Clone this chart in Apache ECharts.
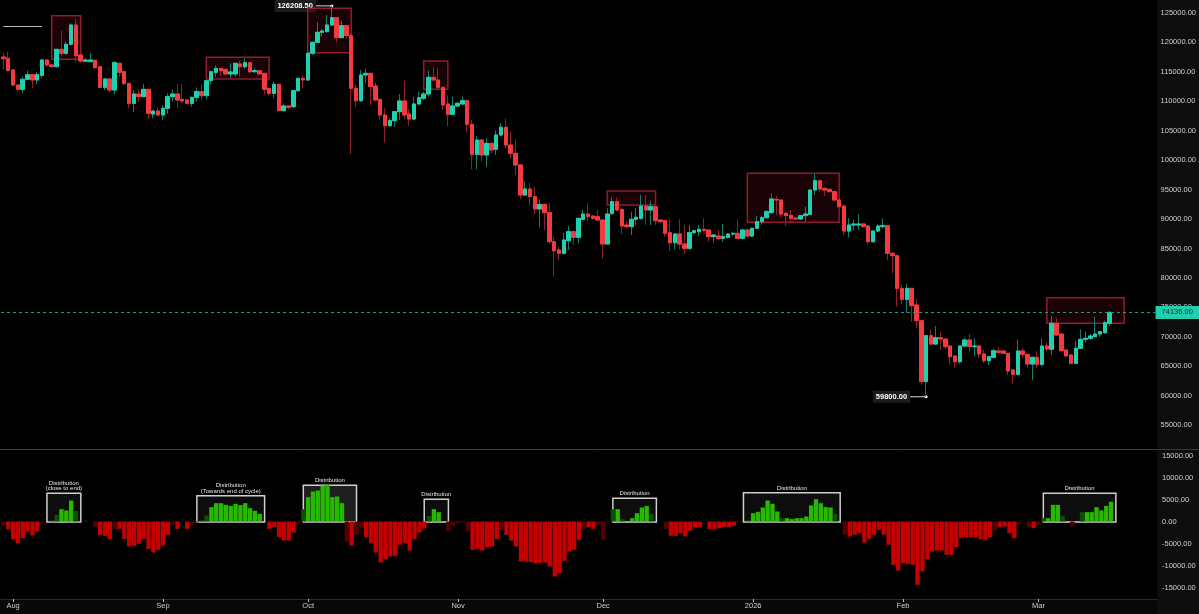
<!DOCTYPE html>
<html>
<head>
<meta charset="utf-8">
<script src="https://cdn.jsdelivr.net/npm/echarts@6/dist/echarts.min.js"></script>
<style>
html, body { margin: 0; padding: 0; background: #000; }
#chart { width: 1199px; height: 614px; }
</style>
</head>
<body>
<div id="chart"></div>
<script>
// daily candles, first one is 2025-07-30
const firstDay = Date.UTC(2025, 6, 30);
const slotCount = 239;  // includes empty days on the right

const opens = [117530,117300,115320,112770,112030,113730,114520,113620,114410,117020,116170,115880,118830,118150,119680,122960,117870,116790,116730,116960,115880,112370,113790,111920,116450,115030,113050,109650,111240,110790,112030,107840,108350,107670,108800,110790,111240,110330,110220,109650,110670,111640,110960,113500,114920,115600,115430,114640,114640,116340,115880,116560,115030,115200,114750,112200,111350,112880,108410,109200,109090,111810,113900,113620,118150,120020,121720,121830,122960,124210,120810,122850,121150,112200,110110,114470,114750,112600,110330,107670,105860,106710,108240,110050,107840,106990,109540,110500,111240,114070,113620,112370,109540,107790,109200,109540,110110,106090,100990,103420,100880,102860,101840,104270,105580,102570,101160,99180,94080,95100,93800,91700,92490,91080,86150,84740,84170,86320,87850,86890,89950,90850,90510,90400,89830,85760,90960,92950,91640,88980,88700,89950,90120,92210,91530,92100,89830,89720,87680,85980,87450,85750,85020,87680,87850,88250,88130,87000,87110,86720,86890,87450,87570,86720,88130,87110,88420,89550,90230,91080,93340,93230,90960,90630,90170,90000,90570,90790,94930,96510,95210,95040,94650,93230,92210,87960,88980,88980,89150,88810,86150,87960,88700,88870,84170,83770,78220,76350,78220,75390,72730,62370,70180,68760,69840,69610,68420,66730,65760,68420,69440,68310,68420,67070,65930,66500,67580,67580,67180,64350,63610,67580,67010,65370,66500,65310,68420,67860,72280,70460,67750,66900,65480,68030,69560,69730,70010,70460,70690,72280];
const closes = [117240,115200,112770,112030,113730,114520,113620,114520,117020,116170,115880,118830,118150,119680,122960,117750,116850,117020,117020,115710,112370,113790,111920,116560,114920,113050,109650,111240,110790,112030,107960,108350,107670,108800,110790,111240,110220,110050,109650,110670,111640,110960,113500,115030,115600,115200,114640,114980,116450,115880,116560,115030,115200,114640,112030,111350,112880,108410,109200,108970,111810,113900,113620,118150,120020,121720,121940,122960,124210,120810,122850,121150,112200,110110,114470,114750,112490,110220,107670,105860,106710,108240,110050,107670,106990,109540,110620,111240,114070,113620,112370,109370,107790,109200,109650,110110,106090,100990,103420,100880,102860,101730,104270,105580,102570,101160,99180,94080,95100,93800,91700,92490,91080,86150,84620,84170,86430,87850,86890,90120,90850,90400,90120,89830,85760,90850,92950,91530,88810,88700,89950,90290,92210,91530,92100,89720,89550,87570,85980,87450,85750,85020,87680,88020,88250,88020,87000,87280,86720,87000,87450,87570,86720,88130,87110,88420,89550,90230,91250,93400,93230,90850,90570,90120,90000,90570,90850,94930,96510,95100,94930,94650,93230,92100,87960,88980,89150,89150,88700,86150,87960,88810,88870,84170,83770,78220,76350,78220,75280,72730,62370,70180,68760,69840,69610,68310,66610,65760,68420,69440,68310,68420,67070,65930,66610,67630,67350,67180,64180,63610,67580,67010,65370,66500,65310,68420,67920,72280,70290,67630,66730,65480,68030,69560,69730,70120,70460,70860,72390,74136];
const lows = [115320,115100,112600,111640,111350,113620,112200,112880,113900,115880,115800,115800,117580,117870,119500,116560,116450,116680,116700,115600,112300,111920,111470,111180,114070,112700,108800,108130,109940,110670,106990,107110,107500,106820,107840,109940,108800,109650,109500,109090,109940,110330,110330,112940,114180,114300,114500,113900,114180,114180,115600,114750,114900,114550,111070,110960,110500,108240,108240,108630,108800,111600,112200,113500,117870,119900,120980,121720,122850,119960,120700,120700,101050,109090,109900,113170,109370,110000,106940,103030,105700,105690,106820,106940,105800,106800,109400,110200,110790,113400,111810,108520,105800,107700,109000,109400,104840,98440,98440,99740,98780,101160,100880,104000,102010,100310,97480,93340,93900,92380,90850,88590,88130,85760,80210,83040,84000,84740,85590,85870,89800,89720,89900,89720,83320,85600,90680,91300,87450,88420,87280,88980,89900,88980,88980,88980,89300,87000,84620,84850,84850,84060,84740,87500,87110,87850,86150,86000,86430,86150,86700,87110,86550,86550,86720,86900,88300,89000,90100,90900,90680,90290,88810,89270,89900,89900,89550,90700,94080,94650,93910,94500,93100,92000,87280,86890,88130,88130,88600,85700,86000,87800,88420,83040,80770,75110,75560,74090,72560,71430,61800,59800,68420,68600,67750,67860,65310,64740,65370,68300,67460,66730,66330,65480,65200,66300,67150,67050,63500,62080,63400,66500,64630,62650,64630,64910,67460,66900,70120,67290,66600,65370,65300,67900,68990,69440,69900,70010,70500,71820];
const highs = [118320,118430,115400,112850,114180,115200,114600,115030,117100,117100,116300,118900,121940,120130,123250,124090,118150,117300,118150,117020,116000,113900,113900,116850,116560,115100,113100,111920,112030,112940,112100,108500,108970,109370,111350,112030,112940,112940,110400,110800,112370,112770,113600,115100,116050,115700,115500,116450,116550,116900,117300,116650,115600,115300,114800,112300,113330,113000,109650,109300,111900,114000,114300,118300,120100,123420,122280,124660,126208.5,124300,123700,123000,121550,112770,115320,115490,114850,113200,110400,108800,107110,108300,111240,113510,108690,110790,111640,111640,115200,115880,115600,112500,111070,110790,109900,110790,110300,106820,104100,103500,103710,103000,105010,106260,107100,104840,103540,99300,96350,96180,95500,93340,92600,92660,87000,85300,87680,88810,88000,90200,91530,92660,90700,91530,90000,91810,93680,93680,91800,89720,91250,91810,94080,94080,93120,92200,90000,89800,89950,87600,89950,88980,88980,88150,88980,90120,88250,87450,88130,89150,87600,87700,89950,88250,88420,88500,90510,90510,91530,94360,93910,93400,91250,91530,90250,90700,92100,95000,97650,96700,95380,95210,94800,93300,92300,90120,89830,90850,89300,88900,88100,89100,90120,89000,84300,83900,78960,78960,78300,76520,72900,70300,71260,71820,70860,69700,68500,66800,68500,69730,70460,69730,68500,67860,66700,67860,68200,67750,67250,64450,69560,68030,67100,66600,67580,69730,68990,73520,73130,70550,67850,67000,69330,71260,70860,70460,73410,71000,72730,74300];

// lower pane oscillator, one value per candle
const histValues = [-758,-1742,-4015,-4924,-3788,-2273,-3182,-2273,-300,0,300,1515,2800,2500,4773,2424,0,150,0,-1136,-3030,-3258,-4015,-1742,-1667,-3940,-5682,-5530,-5076,-3940,-6212,-7045,-6440,-5455,-3030,-758,-1667,0,-1667,-758,-200,227,1364,3258,4167,4167,3788,3560,4015,3712,4167,3030,2424,1742,0,-1667,-1288,-3561,-4318,-4318,-2500,-379,2803,5530,6818,7045,8182,8333,5530,5682,4167,-4545,-5455,-3030,-1515,-3561,-4924,-7045,-9318,-8561,-7955,-7800,-5300,-4924,-6591,-4015,-2500,-1591,1288,2803,2121,0,-2121,-985,-379,150,-2273,-6440,-6212,-6591,-5909,-5682,-4015,-1742,-3030,-4318,-5682,-9091,-9091,-9242,-9470,-9470,-9318,-10227,-12500,-11742,-8939,-6818,-6439,-4167,-1667,-1288,-1667,-758,-4167,-200,2803,2803,530,0,758,1894,3182,3561,1742,0,0,-1742,-3258,-3258,-2652,-3409,-2121,-1364,-1364,0,-1742,-1742,-1515,-1288,-1288,-985,-227,0,379,1894,2197,3182,4773,4015,2273,758,758,530,758,758,1136,3636,5076,4167,3258,3182,1742,0,-3030,-3409,-3030,-2652,-4773,-3940,-3030,-1894,-3000,-5303,-9848,-11136,-9470,-9621,-9848,-14394,-11364,-8561,-6818,-6591,-6591,-7576,-7576,-5833,-3788,-3636,-3636,-3636,-4015,-4167,-3636,-2045,-1288,-1136,-2652,-3788,-379,0,-1288,-1515,-758,758,758,3788,3788,1288,0,-1136,0,2121,2121,2121,3258,2500,3561,4487.14];
// candles where the oscillator is in its weak state
const histWeak = [0,8,10,11,15,17,19,23,35,39,40,41,42,61,62,71,73,74,88,92,93,94,95,96,103,120,123,124,125,126,128,134,137,152,154,161,172,174,205,210,212,214,215,219,221,223];

const lastPrice = 74136;
const lastHist = 4487.14;
const highIdx = 68, highValue = 126208.5;
const lowIdx = 191, lowValue = 59800;
const oldLevel = 122790;

// [from candle, to candle, top price, bottom price]
const priceBoxes = [
    [10, 16, 124540, 117130],
    [42, 55, 117470, 113790],
    [63, 72, 125800, 118260],
    [87, 92, 116850, 112040],
    [125, 135, 94760, 92380],
    [154, 173, 97770, 89440],
    [216, 232, 76630, 72280]
];
// [from candle, to candle, top value, label]
const histBoxes = [
    [9, 16, 6410, 'Distribution\n(close to end)'],
    [40, 54, 5860, 'Distribution\n(Towards end of cycle)'],
    [62, 73, 8230, 'Distribution'],
    [87, 92, 5050, 'Distribution'],
    [126, 135, 5270, 'Distribution'],
    [153, 173, 6550, 'Distribution'],
    [215, 230, 6410, 'Distribution']
];

const monthNames = ['Jan', 'Feb', 'Mar', 'Apr', 'May', 'Jun', 'Jul', 'Aug', 'Sep', 'Oct', 'Nov', 'Dec'];
const dates = [];
for (let i = 0; i < slotCount; i++) {
    dates.push(new Date(firstDay + i * 86400000).toISOString().slice(0, 10));
}
const isMonthStart = (idx) => dates[idx].slice(8) === '01';
const monthLabel = (d) => {
    const m = +d.slice(5, 7) - 1;
    return m === 0 ? d.slice(0, 4) : monthNames[m];
};

const font = 'Liberation Sans';
const upColor = '#22cfae', downColor = '#f23a3f';
const upWick = '#14806c', downWick = '#8e2226';

const fullCandles = opens.map((o, i) => [o, closes[i], lows[i], highs[i]]);
const bodyCandles = opens.map((o, i) => [o, closes[i], Math.min(o, closes[i]), Math.max(o, closes[i])]);
const histBars = histValues.map((v, i) => {
    const weak = histWeak.includes(i);
    let c;
    if (v >= 0) c = weak ? '#0c4f00' : '#27b900';
    else c = weak ? '#560000' : '#c40000';
    return { value: v, itemStyle: { color: c } };
});

const chart = echarts.init(document.getElementById('chart'));
const option = {
    backgroundColor: '#000',
    animation: false,
    textStyle: { fontFamily: font },
    grid: [
        { left: 1, right: 42, top: 0, height: 454.45 },
        { left: 1, right: 42, top: 455.5, height: 132 }
    ],
    xAxis: [
        {
            type: 'category', gridIndex: 0, data: dates, boundaryGap: true,
            axisLine: { show: false }, axisTick: { show: false }, axisLabel: { show: false }
        },
        {
            type: 'category', gridIndex: 1, data: dates, boundaryGap: true, offset: 11.5,
            axisLine: { show: true, onZero: false, lineStyle: { color: '#2b2b2b' } },
            axisTick: { show: true, alignWithLabel: true, length: 3, interval: (i) => isMonthStart(i), lineStyle: { color: '#bdbdbd' } },
            axisLabel: {
                interval: (i) => isMonthStart(i), formatter: monthLabel,
                color: '#cfcfcf', fontSize: 7.5, margin: 3
            }
        }
    ],
    yAxis: [
        {
            type: 'value', gridIndex: 0, position: 'right', min: 50000, max: 127209, interval: 5000,
            splitLine: { show: false }, axisLine: { show: false }, axisTick: { show: false },
            axisLabel: {
                showMinLabel: false, showMaxLabel: false, align: 'left', margin: 5,
                color: '#cfcfcf', fontSize: 7.5, formatter: (v) => v.toFixed(2)
            }
        },
        {
            type: 'value', gridIndex: 1, position: 'right', min: -15000, max: 15000, interval: 5000,
            splitLine: { show: false }, axisLine: { show: false }, axisTick: { show: false },
            axisLabel: {
                align: 'left', margin: 5, padding: [0, 0, 3, 0],
                color: '#cfcfcf', fontSize: 7.5, formatter: (v) => v.toFixed(2)
            }
        }
    ],
    graphic: [
        { type: 'rect', z: -1, shape: { x: 1157, y: 0, width: 42, height: 614 }, style: { fill: '#0d0d0d' } },
        { type: 'rect', z: -1, shape: { x: 0, y: 599, width: 1157, height: 15 }, style: { fill: '#080808' } },
        { type: 'line', shape: { x1: 0, y1: 449.5, x2: 1199, y2: 449.5 }, style: { stroke: '#3c3c3c', lineWidth: 1 } }
    ],
    series: [
        {
            name: 'wicks', type: 'candlestick', xAxisIndex: 0, yAxisIndex: 0,
            data: fullCandles, barWidth: 4,
            itemStyle: { color: 'transparent', color0: 'transparent', borderColor: upWick, borderColor0: downWick, borderWidth: 1 },
            markArea: {
                silent: true,
                itemStyle: { color: 'rgba(120,12,30,0.22)', borderColor: '#8f1c30', borderWidth: 1.5 },
                data: priceBoxes.map(b => [
                    { coord: [dates[b[0]], b[2]] },
                    { coord: [dates[b[1]], b[3]] }
                ])
            },
            markLine: {
                silent: true, symbol: 'none', label: { show: false },
                lineStyle: { color: '#bdbdbd', type: 'solid', width: 1 },
                data: [[{ coord: [dates[0], oldLevel] }, { coord: [dates[8], oldLevel] }]]
            }
        },
        {
            name: 'bodies', type: 'candlestick', xAxisIndex: 0, yAxisIndex: 0,
            data: bodyCandles, barWidth: 4,
            itemStyle: { color: upColor, color0: downColor, borderColor: upColor, borderColor0: downColor, borderWidth: 1 },
            markLine: {
                silent: true, symbol: 'none',
                lineStyle: { color: '#169e87', type: [3, 3], width: 1 },
                label: {
                    position: 'end', distance: 0, formatter: lastPrice.toFixed(2),
                    backgroundColor: '#1fcfae', color: '#08332b', fontSize: 7.5, padding: [2.5, 7, 2.5, 6]
                },
                data: [{ yAxis: lastPrice }]
            }
        },
        {
            name: 'oscillator', type: 'bar', xAxisIndex: 1, yAxisIndex: 1,
            data: histBars, barWidth: '90%'
        },
        {
            // carrier for the lower pane annotations
            name: 'notes', type: 'line', xAxisIndex: 1, yAxisIndex: 1,
            data: [], symbol: 'none',
            markArea: {
                silent: true,
                itemStyle: { color: 'rgba(255,255,255,0.05)', borderColor: '#cfcfcf', borderWidth: 1.5 },
                label: { show: true, position: 'top', distance: 1, color: '#e6e6e6', fontSize: 6, lineHeight: 5.5 },
                data: histBoxes.map(b => [
                    { name: b[3], coord: [dates[b[0]], b[2]], itemStyle: b[2] > 8000 ? { color: 'rgba(255,255,255,0.12)' } : undefined },
                    { coord: [dates[b[1]], -100] }
                ])
            },
            markLine: {
                silent: true, symbol: 'none',
                lineStyle: { opacity: 0 },
                label: {
                    position: 'end', distance: 0, formatter: lastHist.toFixed(2),
                    backgroundColor: '#22f000', color: '#0a2a00', fontSize: 7.5, padding: [3, 10, 3, 6]
                },
                data: [{ yAxis: lastHist }]
            }
        }
    ]
};
chart.setOption(option);

// high / low callouts anchored to the candles through the axes
const hp = chart.convertToPixel({ xAxisIndex: 0, yAxisIndex: 0 }, [dates[highIdx], highValue]);
const lp = chart.convertToPixel({ xAxisIndex: 0, yAxisIndex: 0 }, [dates[lowIdx], lowValue]);
const callout = (p, text) => [
    { type: 'line', shape: { x1: p[0] - 16, y1: p[1], x2: p[0], y2: p[1] }, style: { stroke: '#d8d8d8', lineWidth: 1 } },
    { type: 'circle', shape: { cx: p[0], cy: p[1], r: 1.5 }, style: { fill: '#ffffff' } },
    {
        type: 'text', x: p[0] - 16, y: p[1],
        style: {
            text: text, align: 'right', verticalAlign: 'middle', fill: '#ffffff',
            font: 'bold 7.5px ' + font, backgroundColor: '#1c1c1c', padding: [2, 3]
        }
    }
];
chart.setOption({
    graphic: option.graphic.concat(callout(hp, highValue.toFixed(2)), callout(lp, lowValue.toFixed(2)))
});
</script>
</body>
</html>
